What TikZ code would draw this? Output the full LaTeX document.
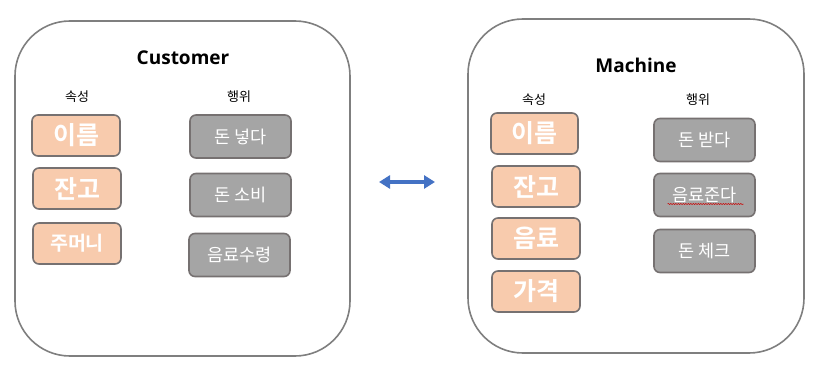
\documentclass[tikz,border=0pt]{standalone}
\usepackage{fontspec}
\setmainfont{Noto Sans CJK KR}
\newfontfamily\krb{Noto Sans CJK KR Bold}
\newfontfamily\latb{Open Sans}
\usetikzlibrary{arrows.meta,decorations.pathmorphing,calc}
\definecolor{panelc}{HTML}{7F7F7F}
\definecolor{attrfill}{HTML}{F8CBAD}
\definecolor{boxline}{HTML}{767171}
\definecolor{actfill}{HTML}{A5A5A5}
\definecolor{arrowc}{HTML}{4472C4}
\begin{document}
\begin{tikzpicture}[x=1pt,y=-1pt,
  panel/.style={draw=panelc,line width=1.6pt,rounded corners=55pt},
  attr/.style={draw=boxline,fill=attrfill,line width=1.6pt,rounded corners=6pt,text=white,font=\krb\fontsize{25}{27}\selectfont},
  act/.style={draw=boxline,fill=actfill,line width=1.6pt,rounded corners=6pt,text=white,font=\fontsize{17.5}{20}\selectfont},
  hdr/.style={font=\fontsize{13}{15}\selectfont,text=black},
  ttl/.style={font=\latb\bfseries\fontsize{19}{22}\selectfont,text=black}]
\useasboundingbox (0,0) rectangle (826,374);
% panels
\draw[panel] (15,21) rectangle (350,356);
\draw[panel] (468,19) rectangle (804,353);
\node[ttl] (ct) at (183,58) {Customer};
\node[ttl] (mt) at (636,65) {Machine};
% headers
\node[hdr] (ch1) at (77,97) {속성};
\node[hdr] (ch2) at (239,97) {행위};
\node[hdr] (mh1) at (534,100) {속성};
\node[hdr] (mh2) at (698,100) {행위};
% customer attributes
\node[attr,minimum width=88pt,minimum height=41pt] (c1) at (76,135.5) {이름};
\node[attr,minimum width=88pt,minimum height=41pt] (c2) at (77,188.5) {잔고};
\node[attr,minimum width=88pt,minimum height=41pt,font=\krb\fontsize{19.5}{21}\selectfont] (c3) at (77,243.5) {주머니};
% customer actions
\node[act,minimum width=101pt,minimum height=43pt] (a1) at (240.5,136.5) {돈 넣다};
\node[act,minimum width=101pt,minimum height=43pt] (a2) at (240.5,195) {돈 소비};
\node[act,minimum width=101pt,minimum height=43pt] (a3) at (239.5,255) {음료수령};
% machine attributes
\node[attr,minimum width=87pt,minimum height=41pt] (m1) at (534.5,133.5) {이름};
\node[attr,minimum width=88pt,minimum height=41pt] (m2) at (536,186.5) {잔고};
\node[attr,minimum width=88pt,minimum height=41pt] (m3) at (536,238.5) {음료};
\node[attr,minimum width=88pt,minimum height=41pt] (m4) at (536,291.5) {가격};
% machine actions
\node[act,minimum width=101pt,minimum height=43pt] (b1) at (704.5,140) {돈 받다};
\node[act,minimum width=101pt,minimum height=43pt] (b2) at (704.5,195) {음료준다};
\node[act,minimum width=101pt,minimum height=43pt] (b3) at (704.5,251) {돈 체크};
\coordinate (sq1) at ($(b2.center)+(-37,9)$);
\coordinate (sq2) at ($(b2.center)+(39,9)$);
\draw[red!80!black,line width=0.5pt,decorate,decoration={snake,amplitude=0.6pt,segment length=2.5pt}] (sq1) -- (sq2);
% arrow
\coordinate (la) at (379,182);
\coordinate (ra) at (435,182);
\draw[arrowc,line width=3.3pt,{Triangle[length=11pt,width=13pt]}-{Triangle[length=11pt,width=13pt]}] (la) -- (ra);
\end{tikzpicture}
\end{document}
